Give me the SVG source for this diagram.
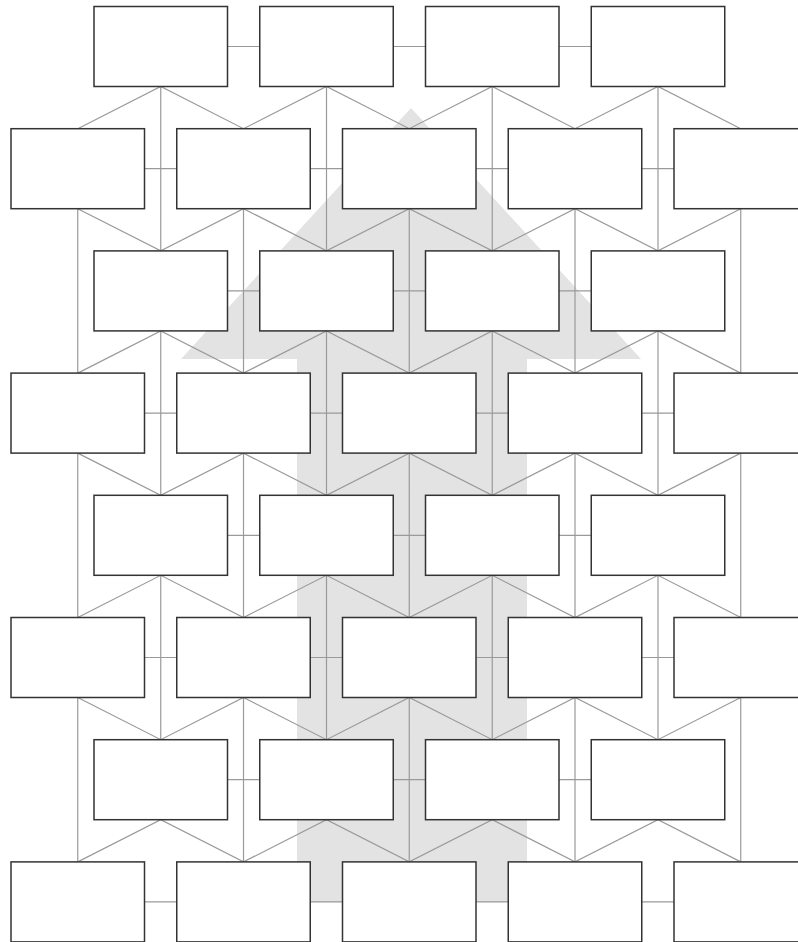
<svg xmlns="http://www.w3.org/2000/svg" width="798" height="942" viewBox="0 0 798 942">
<style>
.bg{fill:#ffffff}
.arrow{fill:#e3e3e3}
.c{fill:none;stroke:#9a9a9a;stroke-width:1.2}
.n rect{fill:#ffffff;stroke:#333333;stroke-width:1.5}
</style>
<rect class="bg" x="0" y="0" width="798" height="942"/>
<polygon class="arrow" points="411,108 641,359 527,359 527,902 297,902 297,359 181,359"/>
<g id="connectors">
<!-- horizontal -->
<path class="c" d="M227.5 46.5H259.75M393.25 46.5H425.5M559 46.5H591.25
M227.5 290.9H259.75M393.25 290.9H425.5M559 290.9H591.25
M227.5 535.3H259.75M393.25 535.3H425.5M559 535.3H591.25
M227.5 779.7H259.75M393.25 779.7H425.5M559 779.7H591.25
M144.5 168.7H176.75M310.25 168.7H342.5M476 168.7H508.25M641.75 168.7H674
M144.5 413.1H176.75M310.25 413.1H342.5M476 413.1H508.25M641.75 413.1H674
M144.5 657.5H176.75M310.25 657.5H342.5M476 657.5H508.25M641.75 657.5H674
M144.5 901.9H176.75M310.25 901.9H342.5M476 901.9H508.25M641.75 901.9H674"/>
<!-- vertical -->
<path class="c" d="M160.75 86.5V250.9M326.5 86.5V250.9M492.25 86.5V250.9M658 86.5V250.9
M160.75 330.9V495.3M326.5 330.9V495.3M492.25 330.9V495.3M658 330.9V495.3
M160.75 575.3V739.7M326.5 575.3V739.7M492.25 575.3V739.7M658 575.3V739.7
M77.75 208.7V373.1M243.5 208.7V373.1M409.25 208.7V373.1M575 208.7V373.1M740.75 208.7V373.1
M77.75 453.1V617.5M243.5 453.1V617.5M409.25 453.1V617.5M575 453.1V617.5M740.75 453.1V617.5
M77.75 697.5V861.9M243.5 697.5V861.9M409.25 697.5V861.9M575 697.5V861.9M740.75 697.5V861.9"/>
<!-- diagonals -->
<polyline class="c" points="77.75,128.7 160.75,86.5 243.5,128.7 326.5,86.5 409.25,128.7 492.25,86.5 575,128.7 658,86.5 740.75,128.7"/>
<polyline class="c" points="77.75,208.7 160.75,250.9 243.5,208.7 326.5,250.9 409.25,208.7 492.25,250.9 575,208.7 658,250.9 740.75,208.7"/>
<polyline class="c" points="77.75,373.1 160.75,330.9 243.5,373.1 326.5,330.9 409.25,373.1 492.25,330.9 575,373.1 658,330.9 740.75,373.1"/>
<polyline class="c" points="77.75,453.1 160.75,495.3 243.5,453.1 326.5,495.3 409.25,453.1 492.25,495.3 575,453.1 658,495.3 740.75,453.1"/>
<polyline class="c" points="77.75,617.5 160.75,575.3 243.5,617.5 326.5,575.3 409.25,617.5 492.25,575.3 575,617.5 658,575.3 740.75,617.5"/>
<polyline class="c" points="77.75,697.5 160.75,739.7 243.5,697.5 326.5,739.7 409.25,697.5 492.25,739.7 575,697.5 658,739.7 740.75,697.5"/>
<polyline class="c" points="77.75,861.9 160.75,819.7 243.5,861.9 326.5,819.7 409.25,861.9 492.25,819.7 575,861.9 658,819.7 740.75,861.9"/>
</g>
<g id="r1-1" class="n"><rect x="94" y="6.5" width="133.5" height="80"/></g>
<g id="r1-2" class="n"><rect x="259.75" y="6.5" width="133.5" height="80"/></g>
<g id="r1-3" class="n"><rect x="425.5" y="6.5" width="133.5" height="80"/></g>
<g id="r1-4" class="n"><rect x="591.25" y="6.5" width="133.5" height="80"/></g>
<g id="r2-1" class="n"><rect x="11" y="128.7" width="133.5" height="80"/></g>
<g id="r2-2" class="n"><rect x="176.75" y="128.7" width="133.5" height="80"/></g>
<g id="r2-3" class="n"><rect x="342.5" y="128.7" width="133.5" height="80"/></g>
<g id="r2-4" class="n"><rect x="508.25" y="128.7" width="133.5" height="80"/></g>
<g id="r2-5" class="n"><rect x="674" y="128.7" width="133.5" height="80"/></g>
<g id="r3-1" class="n"><rect x="94" y="250.9" width="133.5" height="80"/></g>
<g id="r3-2" class="n"><rect x="259.75" y="250.9" width="133.5" height="80"/></g>
<g id="r3-3" class="n"><rect x="425.5" y="250.9" width="133.5" height="80"/></g>
<g id="r3-4" class="n"><rect x="591.25" y="250.9" width="133.5" height="80"/></g>
<g id="r4-1" class="n"><rect x="11" y="373.1" width="133.5" height="80"/></g>
<g id="r4-2" class="n"><rect x="176.75" y="373.1" width="133.5" height="80"/></g>
<g id="r4-3" class="n"><rect x="342.5" y="373.1" width="133.5" height="80"/></g>
<g id="r4-4" class="n"><rect x="508.25" y="373.1" width="133.5" height="80"/></g>
<g id="r4-5" class="n"><rect x="674" y="373.1" width="133.5" height="80"/></g>
<g id="r5-1" class="n"><rect x="94" y="495.3" width="133.5" height="80"/></g>
<g id="r5-2" class="n"><rect x="259.75" y="495.3" width="133.5" height="80"/></g>
<g id="r5-3" class="n"><rect x="425.5" y="495.3" width="133.5" height="80"/></g>
<g id="r5-4" class="n"><rect x="591.25" y="495.3" width="133.5" height="80"/></g>
<g id="r6-1" class="n"><rect x="11" y="617.5" width="133.5" height="80"/></g>
<g id="r6-2" class="n"><rect x="176.75" y="617.5" width="133.5" height="80"/></g>
<g id="r6-3" class="n"><rect x="342.5" y="617.5" width="133.5" height="80"/></g>
<g id="r6-4" class="n"><rect x="508.25" y="617.5" width="133.5" height="80"/></g>
<g id="r6-5" class="n"><rect x="674" y="617.5" width="133.5" height="80"/></g>
<g id="r7-1" class="n"><rect x="94" y="739.7" width="133.5" height="80"/></g>
<g id="r7-2" class="n"><rect x="259.75" y="739.7" width="133.5" height="80"/></g>
<g id="r7-3" class="n"><rect x="425.5" y="739.7" width="133.5" height="80"/></g>
<g id="r7-4" class="n"><rect x="591.25" y="739.7" width="133.5" height="80"/></g>
<g id="r8-1" class="n"><rect x="11" y="861.9" width="133.5" height="80"/></g>
<g id="r8-2" class="n"><rect x="176.75" y="861.9" width="133.5" height="80"/></g>
<g id="r8-3" class="n"><rect x="342.5" y="861.9" width="133.5" height="80"/></g>
<g id="r8-4" class="n"><rect x="508.25" y="861.9" width="133.5" height="80"/></g>
<g id="r8-5" class="n"><rect x="674" y="861.9" width="133.5" height="80"/></g>
</svg>
